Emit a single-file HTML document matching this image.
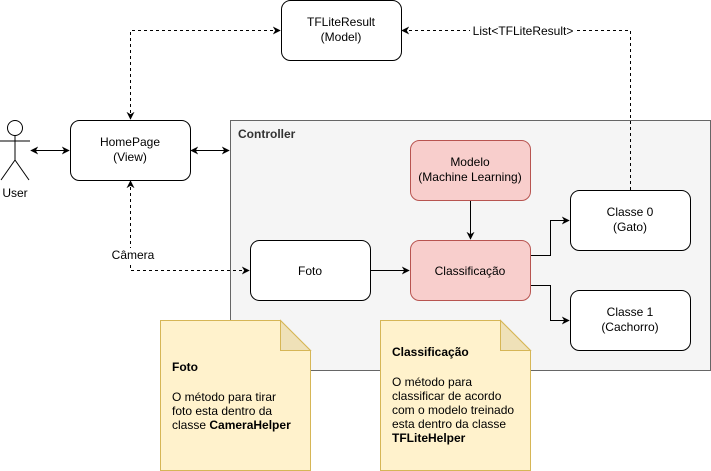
<!DOCTYPE html>
<html><head><meta charset="utf-8"><style>
html,body{margin:0;padding:0;background:#fff;}
svg{display:block;font-family:"Liberation Sans",sans-serif;font-size:12px;}
</style></head><body>
<svg width="711" height="471" viewBox="0 0 711 471" xmlns="http://www.w3.org/2000/svg">
<defs>
<marker id="a" viewBox="0 0 10 10" refX="9" refY="5" markerWidth="8" markerHeight="8" orient="auto-start-reverse" markerUnits="userSpaceOnUse">
<path d="M0,0 L10,5 L0,10 L3,5 Z" fill="#000"/>
</marker>
</defs>
<rect x="230.5" y="120.5" width="480" height="250" fill="#f5f5f5" stroke="#666"/>
<text x="238" y="138" font-weight="bold" fill="#333">Controller</text>

<rect x="281.5" y="0.5" width="120" height="60" rx="9" fill="#fff" stroke="#000"/>
<text x="341" y="26" text-anchor="middle">TFLiteResult</text>
<text x="341" y="41" text-anchor="middle">(Model)</text>

<rect x="70.5" y="120.5" width="120" height="60" rx="9" fill="#fff" stroke="#000"/>
<text x="130" y="146" text-anchor="middle">HomePage</text>
<text x="130" y="161" text-anchor="middle">(View)</text>

<rect x="410.5" y="140.5" width="120" height="60" rx="9" fill="#f8cecc" stroke="#b85450"/>
<text x="470" y="166" text-anchor="middle">Modelo</text>
<text x="470" y="181" text-anchor="middle">(Machine Learning)</text>

<rect x="410.5" y="240.5" width="120" height="60" rx="9" fill="#f8cecc" stroke="#b85450"/>
<text x="470" y="275" text-anchor="middle">Classificação</text>

<rect x="250.5" y="240.5" width="120" height="60" rx="9" fill="#fff" stroke="#000"/>
<text x="310" y="275" text-anchor="middle">Foto</text>

<rect x="570.5" y="190.5" width="120" height="60" rx="9" fill="#fff" stroke="#000"/>
<text x="630" y="216" text-anchor="middle">Classe 0</text>
<text x="630" y="231" text-anchor="middle">(Gato)</text>

<rect x="570.5" y="290.5" width="120" height="60" rx="9" fill="#fff" stroke="#000"/>
<text x="630" y="316" text-anchor="middle">Classe 1</text>
<text x="630" y="331" text-anchor="middle">(Cachorro)</text>

<g stroke="#000" fill="none">
<circle cx="15" cy="128" r="7.5" fill="#fff"/>
<line x1="15" y1="135.5" x2="15" y2="160"/>
<line x1="0" y1="141" x2="30" y2="141"/>
<line x1="15" y1="160" x2="1" y2="180"/>
<line x1="15" y1="160" x2="29" y2="180"/>
</g>
<text x="15" y="197" text-anchor="middle">User</text>

<g stroke="#000" fill="none">
<line x1="31" y1="150.5" x2="69" y2="150.5" marker-start="url(#a)" marker-end="url(#a)"/>
<line x1="191" y1="150.5" x2="229" y2="150.5" marker-start="url(#a)" marker-end="url(#a)"/>
<path d="M130.5,119 V30.5 H280" stroke-dasharray="3,3" marker-start="url(#a)" marker-end="url(#a)"/>
<path d="M630.5,190 V30.5 H402" stroke-dasharray="3,3" marker-end="url(#a)"/>
<path d="M130.5,181 V270.5 H249" stroke-dasharray="3,3" marker-start="url(#a)" marker-end="url(#a)"/>
<line x1="371" y1="270.5" x2="409" y2="270.5" marker-end="url(#a)"/>
<line x1="470.5" y1="201" x2="470.5" y2="239" marker-end="url(#a)"/>
<path d="M531,255.5 H550.5 V220.5 H569" marker-end="url(#a)"/>
<path d="M531,285.5 H550.5 V320.5 H569" marker-end="url(#a)"/>
</g>
<rect x="470" y="24" width="106" height="14" fill="#fff"/>
<text x="523" y="35" text-anchor="middle">List&lt;TFLiteResult&gt;</text>
<rect x="108" y="248" width="50" height="14" fill="#fff"/>
<text x="133" y="259" text-anchor="middle">Câmera</text>

<path d="M160.5,320.5 H280.5 L310.5,350.5 V470.5 H160.5 Z" fill="#fff2cc" stroke="#d6b656"/>
<path d="M280.5,320.5 V350.5 H310.5 Z" fill="#efe1b8" stroke="#d6b656"/>
<text x="172" y="371" font-weight="bold">Foto</text>
<text x="172" y="401">O método para tirar</text>
<text x="172" y="415">foto esta dentro da</text>
<text x="172" y="429">classe <tspan font-weight="bold">CameraHelper</tspan></text>

<path d="M380.5,320.5 H500.5 L530.5,350.5 V470.5 H380.5 Z" fill="#fff2cc" stroke="#d6b656"/>
<path d="M500.5,320.5 V350.5 H530.5 Z" fill="#efe1b8" stroke="#d6b656"/>
<text x="392" y="356" font-weight="bold">Classificação</text>
<text x="392" y="386">O método para</text>
<text x="392" y="400">classificar de acordo</text>
<text x="392" y="414">com o modelo treinado</text>
<text x="392" y="428">esta dentro da classe</text>
<text x="392" y="442" font-weight="bold">TFLiteHelper</text>
</svg>
</body></html>
